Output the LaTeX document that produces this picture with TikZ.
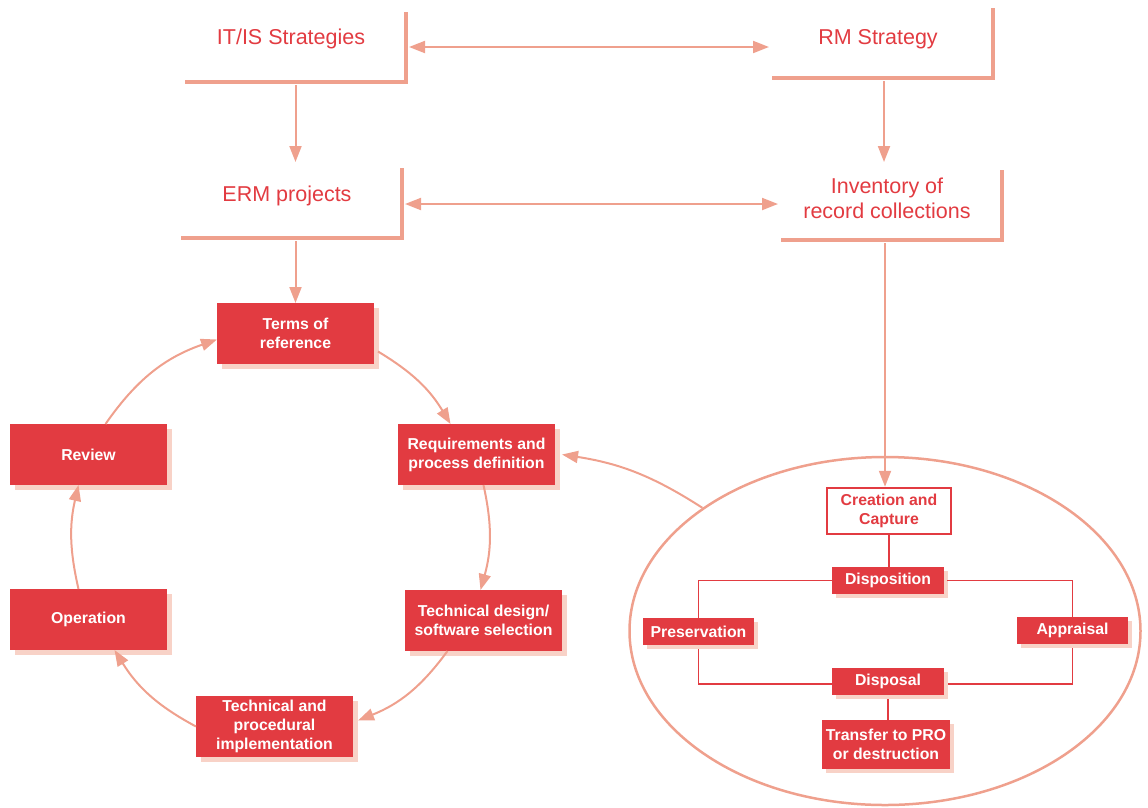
\documentclass[tikz,border=0pt]{standalone}
\usepackage{fontspec}
\setmainfont{Liberation Sans}
\usetikzlibrary{arrows.meta,shapes.geometric,shadows}
\definecolor{rred}{HTML}{E23B41}
\definecolor{salmon}{HTML}{EFA08D}
\definecolor{shade}{HTML}{F8D2C7}
\begin{document}
\begin{tikzpicture}[x=1pt,y=-1pt,
  toptext/.style={text=rred,font=\fontsize{21.5}{25}\selectfont,align=center,inner sep=0pt},
  frame/.style={inner sep=0pt,outer sep=0pt,minimum width=221pt,minimum height=70pt},
  frameline/.style={draw=salmon,line width=4pt},
  arr/.style={draw=salmon,line width=2pt,-{Triangle[length=16pt,width=12pt]}},
  darr/.style={draw=salmon,line width=2pt,{Triangle[length=16pt,width=12pt]}-{Triangle[length=16pt,width=12pt]}},
  bigbox/.style={fill=rred,text=white,font=\fontsize{15.8}{19}\selectfont\bfseries,align=center,
    minimum width=157pt,minimum height=61pt,inner sep=0pt,outer sep=0pt,
    general shadow={fill=shade,shadow xshift=5pt,shadow yshift=-5pt}},
  smallbox/.style={fill=rred,text=white,font=\fontsize{15.8}{19}\selectfont\bfseries,align=center,
    minimum width=112pt,minimum height=27pt,inner sep=0pt,outer sep=0pt,
    general shadow={fill=shade,shadow xshift=4pt,shadow yshift=-4pt}},
  thin/.style={draw=rred,line width=1.3pt},
]
\useasboundingbox (0,0) rectangle (1148,807);

% top frames
\node[frame] (itis) at (295.5,47) {};
\node[frame] (rm) at (882.5,43) {};
\node[frame] (erm) at (291.5,203) {};
\node[frame] (inv) at (891.5,205) {};
\draw[frameline] (itis.south west) -| (itis.north east);
\draw[frameline] (rm.south west) -| (rm.north east);
\draw[frameline] (erm.south west) -| (erm.north east);
\draw[frameline] (inv.south west) -| (inv.north east);
\node[toptext] (itist) at (291,39) {IT/IS Strategies};
\node[toptext] (rmt) at (878,39) {RM Strategy};
\node[toptext] (ermt) at (287,196) {ERM projects};
\node[toptext] (invt) at (887,198) {Inventory of\\record collections};

% ellipse
\node[draw=salmon,line width=2.5pt,ellipse,minimum width=511pt,minimum height=348pt,inner sep=0pt] (ell) at (885,631) {};

% cycle boxes
\node[bigbox] (terms) at (295.5,333.5) {Terms of\\reference};
\node[bigbox] (rev) at (88.5,454.5) {Review};
\node[bigbox] (req) at (476.5,454.5) {Requirements and\\process definition};
\node[bigbox] (op) at (88.5,619.5) {Operation};
\node[bigbox] (td) at (483.5,620.5) {Technical design/\\software selection};
\node[bigbox] (tp) at (274.5,726.5) {Technical and\\procedural\\implementation};

% ellipse boxes
\node[draw=rred,line width=2.5pt,fill=white,text=rred,font=\fontsize{15.8}{19}\selectfont\bfseries,align=center,
  minimum width=124pt,minimum height=46pt,inner sep=0pt] (cre) at (889,511) {Creation and\\Capture};
\node[smallbox] (disp) at (888,580.5) {Disposition};
\node[smallbox,minimum width=111pt] (pres) at (698.5,631.5) {Preservation};
\node[smallbox,minimum width=111pt] (appr) at (1072.5,630.5) {Appraisal};
\node[smallbox] (disl) at (888,681.5) {Disposal};
\node[smallbox,minimum width=128pt,minimum height=49pt] (tra) at (886,744.5) {Transfer to PRO\\or destruction};

% top arrows
\draw[darr,shorten <=3pt,shorten >=3pt] (itis.east) -- (itis.east -| rm.west);
\draw[darr,shorten <=3pt,shorten >=3pt] ([yshift=-1pt]erm.east) -- ([yshift=-1pt]erm.east -| inv.west);
\draw[arr,shorten <=3pt,shorten >=6pt] (itis.south) -- (itis.south |- erm.north);
\draw[arr,shorten <=3pt,shorten >=8pt] ([xshift=1.5pt]rm.south) -- ([xshift=1.5pt]rm.south |- inv.north);
\draw[arr,shorten <=3pt] (erm.south -| terms.north) -- (terms.north);
\draw[arr,shorten <=3pt] ([xshift=-4pt]inv.south -| cre.north) -- ([xshift=-4pt]cre.north);

% cycle arcs
\draw[arr] ([yshift=-18pt,xshift=4pt]terms.east) to[bend left=14] ([xshift=-26pt]req.north);
\draw[arr] ([xshift=7pt]req.south) to[bend left=14] ([xshift=-3pt]td.north);
\draw[arr] ([xshift=-36pt]td.south) to[bend left=16] ([yshift=6pt,xshift=5pt]tp.east);
\draw[arr] (tp.west) to[bend left=15] ([xshift=26pt]op.south);
\draw[arr] ([xshift=-10pt]op.north) to[bend left=13] ([xshift=-10pt]rev.south);
\draw[arr] ([xshift=17pt]rev.north) to[bend left=18] ([yshift=-6pt]terms.west);

% ellipse to requirements
\draw[arr] (ell.146) to[bend right=12] ([xshift=7pt]req.east);

% inner connectors
\draw[thin] (cre.south) -- (cre.south |- disp.north);
\draw[thin] (disp.west) -| (pres.north);
\draw[thin] ([xshift=3pt]disp.east) -| (appr.north);
\draw[thin] ([yshift=-4pt]pres.south) |- ([yshift=-2.5pt]disl.west);
\draw[thin] ([yshift=-4pt]appr.south) |- ([yshift=-2.5pt,xshift=4pt]disl.east);
\draw[thin] ([yshift=-4pt]disl.south) -- ([yshift=-4pt]disl.south |- tra.north);
\end{tikzpicture}
\end{document}
